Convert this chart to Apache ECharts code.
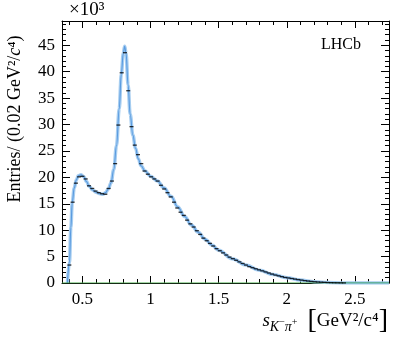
<!DOCTYPE html>
<html>
<head>
<meta charset="utf-8">
<script src="https://cdn.jsdelivr.net/npm/echarts@6/dist/echarts.min.js"></script>
<style>
  html, body { margin: 0; padding: 0; background: #fff; }
  #main { width: 399px; height: 339px; }
</style>
</head>
<body>
<div id="main"></div>
<script>
// bin centres start / width (GeV^2/c^4)
var binStart = 0.404;
var binWidth = 0.024;
// entries per bin, x10^3
var entries = [
    3.4, 15.3, 18.9, 20.1, 20.2, 19.7, 18.4, 17.9, 17.4, 17.1,
    16.9, 16.8, 17.9, 19.3, 22.6, 29.9, 39.8, 43.6, 36.4, 29.6,
    26.1, 24.3, 22.6, 21.2, 20.6, 20.1, 19.7, 19.3, 18.5, 17.8,
    17.1, 16.3, 15.3, 14.2, 13.4, 12.8, 11.9, 11.2, 10.6, 9.9,
    9.2, 8.5, 8.0, 7.5, 7.0, 6.5, 6.1, 5.7, 5.3, 4.9,
    4.6, 4.3, 4.0, 3.7, 3.4, 3.1, 2.9, 2.7, 2.5, 2.3,
    2.1, 1.9, 1.7, 1.5, 1.35, 1.2, 1.05, 0.95, 0.85, 0.75,
    0.65, 0.55, 0.45, 0.37, 0.3, 0.24, 0.19, 0.15, 0.12, 0.09,
    0.07, 0.05, 0.04, 0.03, 0.02
];
// fit curve
var fitX = [0.39, 0.405, 0.415, 0.425, 0.44, 0.455, 0.47, 0.49, 0.51, 0.53,
    0.55, 0.575, 0.60, 0.63, 0.65, 0.67, 0.69, 0.71, 0.73, 0.75,
    0.77, 0.785, 0.80, 0.81, 0.82, 0.835, 0.85, 0.87, 0.89, 0.91,
    0.93, 0.96, 1.0, 1.05, 1.1, 1.15, 1.2, 1.25, 1.3, 1.35,
    1.4, 1.45, 1.5, 1.6, 1.7, 1.8, 1.9, 2.0, 2.1, 2.2,
    2.3, 2.4, 2.5, 2.75];
var fitY = [0, 4, 10.5, 15.2, 18, 19.5, 20.3, 20.5, 20.1, 19.2,
    18.3, 17.6, 17.2, 16.9, 16.8, 17.1, 17.8, 19.0, 21.5, 26,
    33, 39.5, 43.5, 44.8, 43.5, 37.5, 32, 28, 25.5, 23.5,
    22.2, 21.2, 20.2, 19.3, 18.0, 16.4, 14.4, 12.6, 11.0, 9.6,
    8.3, 7.2, 6.2, 4.6, 3.4, 2.4, 1.6, 1.0, 0.55, 0.25,
    0.08, 0.02, 0, 0];
// flat background component
var bkgX = [0.35, 2.75];
var bkgY = [0, 0];
// axis ticks
var xMajor = [0.5, 1, 1.5, 2, 2.5];
var xMinor = [0.4, 0.6, 0.7, 0.8, 0.9, 1.1, 1.2, 1.3, 1.4, 1.6, 1.7, 1.8, 1.9, 2.1, 2.2, 2.3, 2.4, 2.6, 2.7];
var yMajor = [0, 5, 10, 15, 20, 25, 30, 35, 40, 45];
var yMinor = [];
for (var k = 1; k < 50; k++) { if (k % 5) yMinor.push(k); }

var serif = 'Liberation Serif';
var myChart = echarts.init(document.getElementById('main'));

var dataPts = entries.map(function (v, i) { return [+(binStart + binWidth * i).toFixed(3), v]; });
var fitPts = fitX.map(function (x, i) { return [x, fitY[i]]; });
var bkgPts = bkgX.map(function (x, i) { return [x, bkgY[i]]; });

function xAx(pos, ticks, len, labels, line) {
    return {
        type: 'value', position: pos, min: 0.35, max: 2.75,
        axisLine: { show: line, onZero: false, lineStyle: { color: '#000', width: 1 } },
        axisTick: { show: true, inside: true, length: len, customValues: ticks, lineStyle: { color: '#000' } },
        axisLabel: { show: labels, customValues: ticks, margin: 8, color: '#000', fontFamily: serif, fontSize: 17 },
        splitLine: { show: false }
    };
}
function yAx(pos, ticks, len, labels, line) {
    return {
        type: 'value', position: pos, min: 0, max: 49.6,
        axisLine: { show: line, onZero: false, lineStyle: { color: '#000', width: 1 } },
        axisTick: { show: true, inside: true, length: len, customValues: ticks, lineStyle: { color: '#000' } },
        axisLabel: { show: labels, customValues: ticks, margin: 7, color: '#000', fontFamily: serif, fontSize: 17 },
        splitLine: { show: false }
    };
}

option = {
    animation: false,
    grid: { left: 62, right: 10, top: 21, bottom: 56 },
    xAxis: [
        xAx('bottom', xMajor, 7, true, true),
        xAx('bottom', xMinor, 4, false, false),
        xAx('top', xMajor, 7, false, true),
        xAx('top', xMinor, 4, false, false)
    ],
    yAxis: [
        yAx('left', yMajor, 8, true, true),
        yAx('left', yMinor, 4, false, false),
        yAx('right', yMajor, 8, false, true),
        yAx('right', yMinor, 4, false, false)
    ],
    series: [
        {
            name: 'band', type: 'line', data: fitPts, smooth: 0.4, smoothMonotone: 'x',
            showSymbol: false, lineStyle: { color: '#a6cdf0', width: 3.5 }, z: 1
        },
        {
            name: 'fit', type: 'line', data: fitPts, smooth: 0.4, smoothMonotone: 'x',
            showSymbol: false, lineStyle: { color: '#5a9be0', width: 1.1 }, z: 2
        },
        {
            name: 'bkg', type: 'line', data: bkgPts, showSymbol: false,
            lineStyle: { color: '#4caf50', width: 1.2 }, z: 3
        },
        {
            name: 'data', type: 'scatter', data: dataPts, symbol: 'rect', symbolSize: [4, 1.3],
            itemStyle: { color: '#000' }, z: 4
        }
    ],
    graphic: [
        {
            type: 'text', x: 69, y: 1,
            style: { text: '×10³', font: '19px "' + serif + '"', fill: '#000' }
        },
        {
            type: 'text', x: 321, y: 37,
            style: { text: 'LHCb', font: '16px "' + serif + '"', fill: '#000' }
        },
        {
            type: 'text', x: 15, y: 119, rotation: Math.PI / 2,
            style: {
                text: '{a|Entries/ (0.02 GeV²/}{i|c}{a|⁴)}',
                align: 'center', verticalAlign: 'middle',
                rich: {
                    a: { fontFamily: serif, fontSize: 18, fill: '#000' },
                    i: { fontFamily: serif, fontSize: 18, fontStyle: 'italic', fill: '#000' }
                }
            }
        },
        {
            type: 'text', right: 11, top: 307,
            style: {
                text: '{i|s}{sub|K}{sup|−}{sub|π}{sup|+}   {b|[}{a|GeV²/c⁴}{b|]}',
                rich: {
                    i: { fontFamily: serif, fontSize: 19, fontStyle: 'italic', fill: '#000', verticalAlign: 'middle' },
                    sub: { fontFamily: serif, fontSize: 14, fontStyle: 'italic', fill: '#000', verticalAlign: 'bottom', padding: [0, 0, 1, 0] },
                    sup: { fontFamily: serif, fontSize: 10, fill: '#000', verticalAlign: 'bottom', padding: [0, 0, 8, 0] },
                    a: { fontFamily: serif, fontSize: 19, fill: '#000', verticalAlign: 'middle' },
                    b: { fontFamily: serif, fontSize: 28, fill: '#000', verticalAlign: 'middle' }
                }
            }
        }
    ]
};
myChart.setOption(option);
</script>
</body>
</html>
